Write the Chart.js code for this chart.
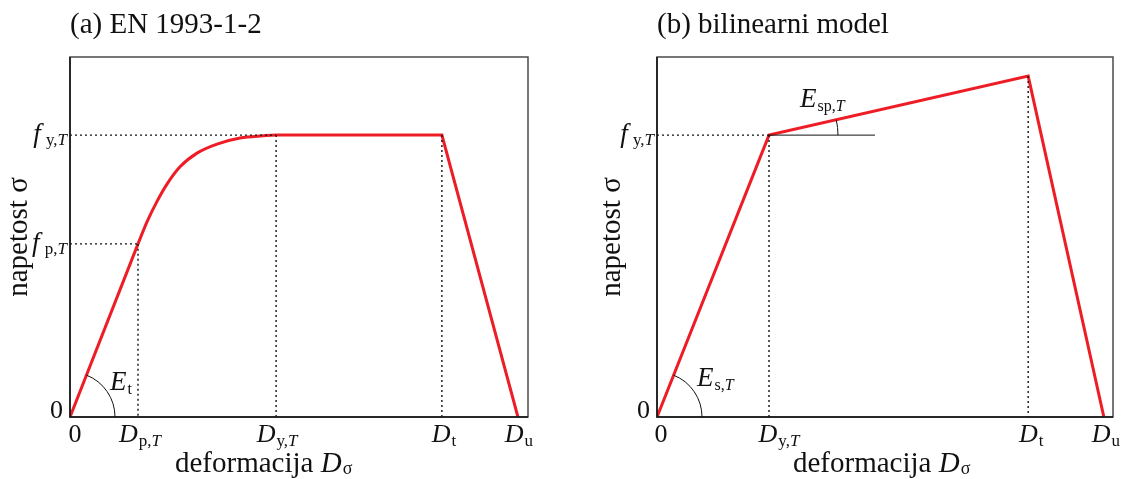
<!DOCTYPE html>
<html>
<head>
<meta charset="utf-8">
<script src="https://cdn.jsdelivr.net/npm/chart.js@4.4.0/dist/chart.umd.min.js"></script>
<style>
  html, body { margin: 0; padding: 0; background: #fff; }
  #wrap { position: relative; width: 1121px; height: 479px; }
  canvas { position: absolute; top: 0; }
</style>
</head>
<body>
<div id="wrap">
  <canvas id="chartA" width="560" height="479" style="left:0"></canvas>
  <canvas id="chartB" width="561" height="479" style="left:560px"></canvas>
</div>
<script>
// (a) EN 1993-1-2 -- strain: 0, D_p,T, D_y,T, D_t, D_u
const strainA = [0, 1.485, 4.50, 8.12, 9.78];
// stress: 0, f_p,T, f_y,T
const stressA = [0, 4.81, 7.83];
// elliptic branch between D_p,T and D_y,T
const curveX = [1.485, 1.681, 1.900, 2.118, 2.402, 2.773, 3.210, 3.712, 4.214, 4.50];
const curveY = [4.81, 5.42, 5.99, 6.47, 6.95, 7.33, 7.58, 7.75, 7.81, 7.83];

// (b) bilinearni model -- strain: 0, D_y,T, D_t, D_u
const strainB = [0, 2.456, 8.14, 9.80];
// stress: 0, f_y,T, peak at D_t
const stressB = [0, 7.83, 9.47];
const refEndB = 4.78; // end of horizontal reference line for E_sp,T

const RED = '#ee1c25';
const FAM = '"Liberation Serif", "Times New Roman", serif';

// rich text: parts = [text, style]  n normal, i italic, s sub, si sub italic
function drawRich(ctx, parts, x, y, align, size, subSize, subDy) {
    let widths = [], fonts = [], total = 0;
    parts.forEach((p, i) => {
        const sub = p[1][0] === 's';
        const it = p[1] === 'i' || p[1] === 'si';
        const f = (it ? 'italic ' : '') + (sub ? subSize : size) + 'px ' + FAM;
        ctx.font = f;
        let w = ctx.measureText(p[0]).width;
        if (p[1] === 'i' && parts[i + 1] && parts[i + 1][1][0] === 's') w += 1;
        fonts.push(f); widths.push(w); total += w;
    });
    let cx = align === 'center' ? x - total / 2 : align === 'right' ? x - total : x;
    ctx.textAlign = 'left';
    ctx.textBaseline = 'alphabetic';
    parts.forEach((p, i) => {
        ctx.font = fonts[i];
        ctx.fillText(p[0], cx, y + (p[1][0] === 's' ? subDy : 0));
        cx += widths[i];
    });
}

const L = {
    zero: [['0', 'n']],
    Dp: [['D', 'i'], ['p,', 's'], ['T', 'si']],
    Dy: [['D', 'i'], ['y,', 's'], ['T', 'si']],
    Dt: [['D', 'i'], ['t', 's']],
    Du: [['D', 'i'], ['u', 's']],
    fp: [['f', 'i'], [' p,', 's'], ['T', 'si']],
    fy: [['f', 'i'], [' y,', 's'], ['T', 'si']],
    Et: [['E', 'i'], ['t', 's']],
    EsT: [['E', 'i'], ['s,', 's'], ['T', 'si']],
    EspT: [['E', 'i'], ['sp,', 's'], ['T', 'si']],
    xTitle: [['deformacija ', 'n'], ['D', 'i'], ['σ', 's']]
};

function line(pts, color, width, dash) {
    return {
        data: pts.map(p => ({ x: p[0], y: p[1] })),
        borderColor: color, borderWidth: width, borderDash: dash || [],
        pointRadius: 0, fill: false, tension: 0,
        borderCapStyle: 'butt', borderJoinStyle: 'miter'
    };
}

function panelPlugin(panel) {
    return {
        id: 'panel',
        afterDraw(chart) {
            const ctx = chart.ctx, a = chart.chartArea;
            const xs = chart.scales.x, ys = chart.scales.y;
            ctx.save();
            // frame
            ctx.strokeStyle = '#4a4a4a'; ctx.lineWidth = 1.5;
            ctx.strokeRect(a.left, a.top, a.right - a.left, a.bottom - a.top);
            ctx.strokeStyle = '#111';
            ctx.beginPath();
            ctx.moveTo(a.left, a.top); ctx.lineTo(a.left, a.bottom); ctx.lineTo(a.right, a.bottom);
            ctx.stroke();
            ctx.fillStyle = '#111';
            // title
            ctx.font = '29px ' + FAM;
            ctx.textAlign = 'left'; ctx.textBaseline = 'alphabetic';
            ctx.fillText(panel.title, a.left, 33);
            // x tick labels
            panel.xTicks.forEach(t => {
                drawRich(ctx, t[1], xs.getPixelForValue(t[0]) + (t[2] || 0), a.bottom + 25, 'center', 26, 17, 4);
            });
            // y tick labels
            panel.yTicks.forEach(t => {
                const y = ys.getPixelForValue(t[0]);
                if (t[0] === 0) drawRich(ctx, t[1], a.left - 7, y + 1, 'right', 26, 17, 4);
                else drawRich(ctx, t[1], a.left - 3, y + 7, 'right', 27, 17, 3);
            });
            // axis titles
            drawRich(ctx, L.xTitle, panel.xTitleX, 472, 'left', 29, 18, 2);
            ctx.save();
            ctx.translate(panel.yTitleX, (a.top + a.bottom) / 2);
            ctx.rotate(-Math.PI / 2);
            ctx.font = '29px ' + FAM;
            ctx.textAlign = 'center'; ctx.textBaseline = 'middle';
            ctx.fillText('napetost σ', 0, 0);
            ctx.restore();
            // angle arcs + labels
            ctx.strokeStyle = '#111'; ctx.lineWidth = 1;
            panel.arcs.forEach(arc => {
                const cx = xs.getPixelForValue(arc.from[0]), cy = ys.getPixelForValue(arc.from[1]);
                const tx = xs.getPixelForValue(arc.to[0]), ty = ys.getPixelForValue(arc.to[1]);
                const ang = Math.atan2(ty - cy, tx - cx);
                ctx.beginPath();
                ctx.arc(cx, cy, arc.r, ang, 0);
                ctx.stroke();
                drawRich(ctx, arc.label, cx + arc.lx, cy + arc.ly, 'left', 27, 16, 4);
            });
            ctx.restore();
        }
    };
}

function makeChart(id, datasets, panel, padding) {
    return new Chart(document.getElementById(id), {
        type: 'line',
        data: { datasets: datasets },
        options: {
            responsive: false,
            animation: false,
            layout: { padding: padding },
            plugins: { legend: { display: false }, tooltip: { enabled: false } },
            scales: {
                x: { type: 'linear', min: 0, max: 10, display: false },
                y: { type: 'linear', min: 0, max: 10, display: false }
            }
        },
        plugins: [panelPlugin(panel)]
    });
}

// ---- panel (a)
const dotted = [2, 3];
const DOT = '#111';
const dsA = [
    line([[0, stressA[2]], [strainA[2], stressA[2]]], DOT, 1.4, dotted),
    line([[0, stressA[1]], [strainA[1], stressA[1]]], DOT, 1.4, dotted),
    line([[strainA[1], stressA[1]], [strainA[1], 0]], DOT, 1.4, dotted),
    line([[strainA[2], stressA[2]], [strainA[2], 0]], DOT, 1.4, dotted),
    line([[strainA[3], stressA[2]], [strainA[3], 0]], DOT, 1.4, dotted),
    line([[strainA[0], stressA[0]], [strainA[1], stressA[1]]], RED, 3),
    Object.assign(line(curveX.map((x, i) => [x, curveY[i]]), RED, 3), { cubicInterpolationMode: 'monotone' }),
    line([[strainA[2], stressA[2]], [strainA[3], stressA[2]], [strainA[4], 0]], RED, 3)
];
makeChart('chartA', dsA, {
    title: '(a) EN 1993-1-2',
    xTicks: [[strainA[0], L.zero, 5], [strainA[1], L.Dp, 2], [strainA[2], L.Dy, 1], [strainA[3], L.Dt, 2], [strainA[4], L.Du, 1]],
    yTicks: [[stressA[0], L.zero], [stressA[1], L.fp], [stressA[2], L.fy]],
    xTitleX: 175, yTitleX: 19,
    arcs: [{ from: [strainA[0], stressA[0]], to: [strainA[1], stressA[1]], r: 45, label: L.Et, lx: 40, ly: -27 }]
}, { left: 70, top: 57, right: 32, bottom: 62 });

// ---- panel (b)
const dsB = [
    line([[0, stressB[1]], [strainB[1], stressB[1]]], DOT, 1.4, dotted),
    line([[strainB[1], stressB[1]], [strainB[1], 0]], DOT, 1.4, dotted),
    line([[strainB[2], stressB[2]], [strainB[2], 0]], DOT, 1.4, dotted),
    line([[strainB[1], stressB[1]], [refEndB, stressB[1]]], '#111', 1),
    line([[strainB[0], stressB[0]], [strainB[1], stressB[1]], [strainB[2], stressB[2]], [strainB[3], 0]], RED, 3)
];
makeChart('chartB', dsB, {
    title: '(b) bilinearni model',
    xTicks: [[strainB[0], L.zero, 4], [strainB[1], L.Dy, 10], [strainB[2], L.Dt, 3], [strainB[3], L.Du, 2]],
    yTicks: [[stressB[0], L.zero], [stressB[1], L.fy]],
    xTitleX: 793 - 560, yTitleX: 612 - 560,
    arcs: [
        { from: [strainB[0], stressB[0]], to: [strainB[1], stressB[1]], r: 45, label: L.EsT, lx: 40, ly: -31 },
        { from: [strainB[1], stressB[1]], to: [strainB[2], stressB[2]], r: 69, label: L.EspT, lx: 31, ly: -28 }
    ]
}, { left: 97, top: 57, right: 8, bottom: 62 });
</script>
</body>
</html>
